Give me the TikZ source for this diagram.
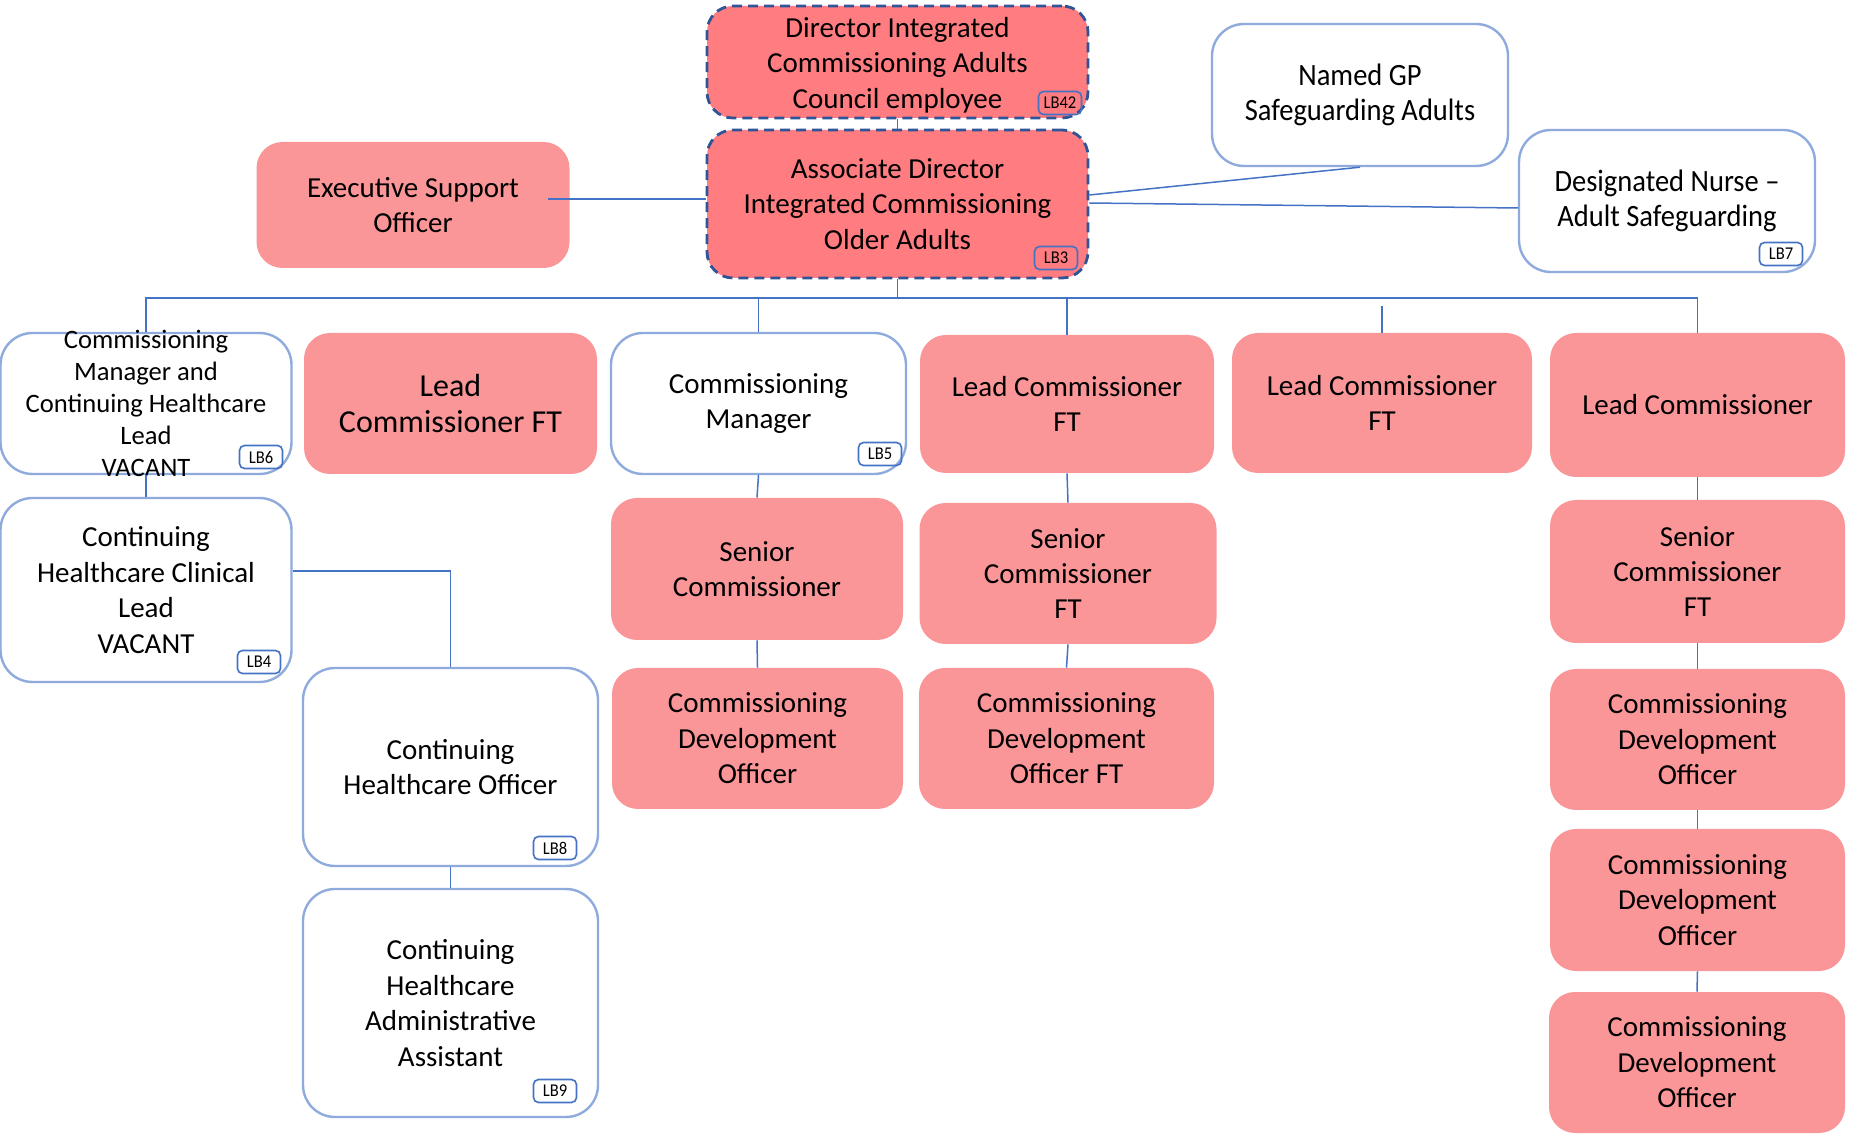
\documentclass[tikz,border=0pt]{standalone}
\usepackage{fontspec}
\setmainfont{Carlito}
\newfontfamily\condensed[FakeStretch=0.92]{Carlito}
\definecolor{pinkc}{RGB}{250,150,152}
\definecolor{dirc}{RGB}{255,124,128}
\definecolor{dashc}{RGB}{47,85,151}
\definecolor{bordc}{RGB}{143,170,220}
\definecolor{linec}{RGB}{68,114,196}
\tikzset{
 pinkbox/.style={rectangle, rounded corners=13pt, fill=pinkc, draw=none},
 dirbox/.style={rectangle, rounded corners=13pt, fill=dirc, draw=dashc, line width=1.4pt, dash pattern=on 5pt off 3pt},
 whitebox/.style={rectangle, rounded corners=16pt, fill=white, draw=bordc, line width=1.2pt},
 txt/.style={align=center, font=\fontsize{14.5}{17.7}\selectfont, inner sep=0pt},
 txtlow/.style={txt, yshift=-1.5pt},
 txtsmall/.style={align=center, font=\fontsize{13.3}{16}\selectfont, inner sep=0pt},
 txtbig/.style={align=center, font=\fontsize{16}{18.3}\selectfont, inner sep=0pt},
 txtcond/.style={align=center, font=\condensed\fontsize{15.5}{17.7}\selectfont, inner sep=0pt},
 lbl/.style={draw=linec, line width=0.8pt, rounded corners=2.5pt, minimum width=21.5pt, minimum height=11.5pt, inner sep=0pt, font=\condensed\fontsize{9}{9}\selectfont},
 conn/.style={draw=linec, line width=0.75pt},
}
\newcommand\obox[8]{%
 \node[#6, minimum width=#4*0.5pt, minimum height=#5*0.5pt, inner sep=0pt] (#1) at (#2,#3) {};
 \node[#7] (#1-t) at (#1) {#8};}
\begin{document}
\begin{tikzpicture}[x=0.5pt,y=-0.5pt]
\useasboundingbox (0,0) rectangle (1854,1138);
% top
\obox{dir}{897.5}{62}{381}{112}{dirbox}{txtlow}{Director Integrated\\Commissioning Adults\\Council employee}
\obox{assoc}{897.5}{204}{381}{148}{dirbox}{txt}{Associate Director\\Integrated Commissioning\\Older Adults}
\obox{exec}{413}{205}{313}{126}{pinkbox}{txt}{Executive Support\\Officer}
\obox{gp}{1360}{95}{296}{142}{whitebox}{txtcond}{Named GP\\Safeguarding Adults}
\obox{nurse}{1667}{201}{296}{142}{whitebox}{txtcond}{Designated Nurse –\\Adult Safeguarding}
% row 1
\obox{cmchl}{146}{403.5}{291}{141}{whitebox}{txtsmall}{Commissioning\\Manager and\\Continuing Healthcare\\Lead\\VACANT}
\obox{lcbig}{450.5}{403.5}{293}{141}{pinkbox}{txtbig}{Lead\\Commissioner FT}
\obox{cm}{758.5}{403.5}{295}{141}{whitebox}{txt}{Commissioning\\Manager}
\obox{lcft}{1067}{404}{294}{138}{pinkbox}{txt}{Lead Commissioner\\FT}
\obox{lcft2}{1382}{403}{300}{140}{pinkbox}{txt}{Lead Commissioner\\FT}
\obox{lc}{1697.5}{405}{295}{144}{pinkbox}{txt}{Lead Commissioner}
% row 2
\obox{chcl}{146}{590}{291}{184}{whitebox}{txt}{Continuing\\Healthcare Clinical\\Lead\\VACANT}
\obox{sc}{757}{569}{292}{142}{pinkbox}{txt}{Senior\\Commissioner}
\obox{scft}{1068}{573.5}{297}{141}{pinkbox}{txt}{Senior\\Commissioner\\FT}
\obox{scftr}{1697.5}{571.5}{295}{143}{pinkbox}{txt}{Senior\\Commissioner\\FT}
% row 3
\obox{chco}{450.5}{767}{295}{198}{whitebox}{txt}{Continuing\\Healthcare Officer}
\obox{cdo}{757.5}{738.5}{291}{141}{pinkbox}{txt}{Commissioning\\Development\\Officer}
\obox{cdoft}{1066.5}{738.5}{295}{141}{pinkbox}{txt}{Commissioning\\Development\\Officer FT}
\obox{cdor1}{1697.5}{739.5}{295}{141}{pinkbox}{txt}{Commissioning\\Development\\Officer}
% row 4-5
\obox{chca}{450.5}{1003}{295}{228}{whitebox}{txt}{Continuing\\Healthcare\\Administrative\\Assistant}
\obox{cdor2}{1697.5}{900}{295}{142}{pinkbox}{txt}{Commissioning\\Development\\Officer}
\obox{cdor3}{1697}{1062.5}{296}{141}{pinkbox}{txt}{Commissioning\\Development\\Officer}
% labels
\node[lbl] (lb42) at (1060,103) {LB42};
\node[lbl] (lb3) at (1056,258) {LB3};
\node[lbl] (lb7) at (1781,254) {LB7};
\node[lbl] (lb6) at (261,457) {LB6};
\node[lbl] (lb4) at (259,662) {LB4};
\node[lbl] (lb5) at (880,454) {LB5};
\node[lbl] (lb8) at (555,848) {LB8};
\node[lbl] (lb9) at (555,1091) {LB9};
% helper coordinates
\coordinate (execend) at (548,199);
\coordinate (gpy) at (0,195);
\coordinate (nry) at (0,203);
\coordinate (nry2) at (0,208);
\coordinate (busy) at (0,298);
\coordinate (bus) at (assoc.south |- busy);
\coordinate (float) at (1382,306);
\coordinate (chy) at (0,571);
% connectors
\draw[conn] (dir.south) -- (assoc.north);
\draw[conn] (execend) -- (assoc.west |- execend);
\draw[conn] (assoc.east |- gpy) -- (gp.south);
\draw[conn] (assoc.east |- nry) -- (nurse.west |- nry2);
\draw[conn] (assoc.south) -- (bus);
\draw[conn] (cmchl.north) |- (bus);
\draw[conn] (lc.north) |- (bus);
\draw[conn] (cm.north) -- (cm.north |- bus);
\draw[conn] (lcft.north) -- (lcft.north |- bus);
\draw[conn] (float) -- (lcft2.north);
\draw[conn] (cmchl.south) -- (chcl.north);
\draw[conn] (chcl.east |- chy) -| (chco.north);
\draw[conn] (chco.south) -- (chca.north);
\draw[conn] (cm.south) -- (sc.north);
\draw[conn] (sc.south) -- (cdo.north);
\draw[conn] (lcft.south) -- (scft.north);
\draw[conn] (scft.south) -- (cdoft.north);
\draw[conn] (lc.south) -- (scftr.north);
\draw[conn] (scftr.south) -- (cdor1.north);
\draw[conn] (cdor1.south) -- (cdor2.north);
\draw[conn] (cdor2.south) -- (cdor3.north);
\end{tikzpicture}
\end{document}
